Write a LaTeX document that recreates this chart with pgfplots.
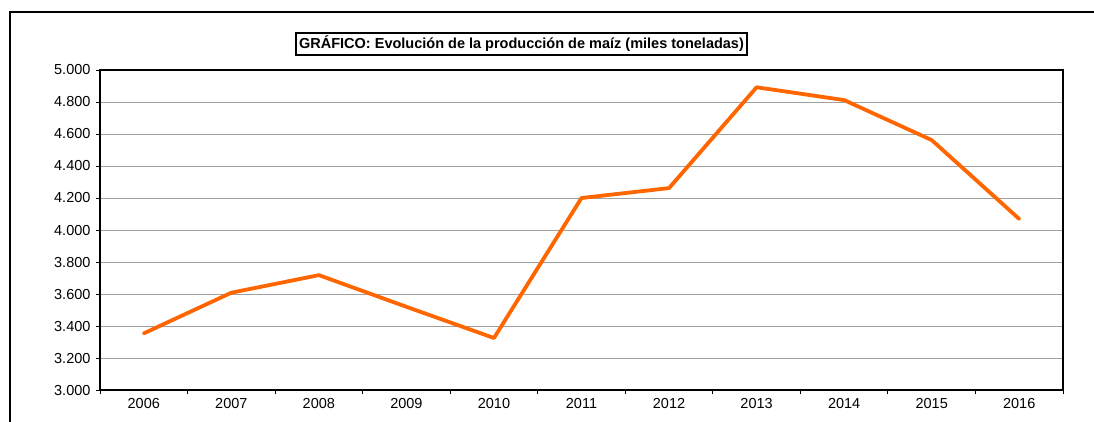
\documentclass[border=0pt]{standalone}
\usepackage{fontspec}
\setmainfont{Liberation Sans}
\usepackage{pgfplots}
\pgfplotsset{compat=1.18}
\definecolor{lineorange}{HTML}{FF6600}
\definecolor{gridgray}{HTML}{A0A0A0}
\begin{document}
\begin{tikzpicture}
\path[use as bounding box] (0pt,0pt) rectangle (1094pt,-421pt);
\draw[line width=2.6pt] (10pt,-425pt) -- (10pt,-12pt) -- (1098pt,-12pt);
\begin{axis}[
  at={(100pt,-390pt)}, anchor=south west,
  width=963pt, height=320pt, scale only axis,
  xmin=-0.5, xmax=10.5, ymin=3000, ymax=5000,
  xtick={-0.5,0.5,...,10.5},
  x tick label as interval,
  xticklabels={2006,2007,2008,2009,2010,2011,2012,2013,2014,2015,2016},
  ytick={3000,3200,...,5000},
  scaled y ticks=false,
  yticklabel style={xshift=-2pt},
  xticklabel style={yshift=-1pt},
  y tick label style={/pgf/number format/.cd, fixed, precision=0, 1000 sep={.}, min exponent for 1000 sep=3, assume math mode=true},
  tick label style={font=\fontsize{14.5}{16}\selectfont},
  tick align=outside, tick pos=left,
  major tick length=4pt,
  tick style={black, line width=0.9pt},
  axis line style={black, line width=1.1pt},
  ymajorgrids, xmajorgrids=false,
  grid style={gridgray, line width=0.9pt},
  clip=false,
]
\addplot[lineorange, line width=3.8pt, line join=round, line cap=round] coordinates {
 (0,3354) (1,3608) (2,3718) (3,3520) (4,3325) (5,4200) (6,4262) (7,4892) (8,4812) (9,4562) (10,4069)
};
\end{axis}
\node[draw, line width=1.6pt, font=\bfseries\fontsize{14.5}{16}\selectfont, inner xsep=3pt, inner ysep=3pt] at (521.5pt,-44pt) {GRÁFICO: Evolución de la producción de maíz (miles toneladas)};
\end{tikzpicture}
\end{document}
